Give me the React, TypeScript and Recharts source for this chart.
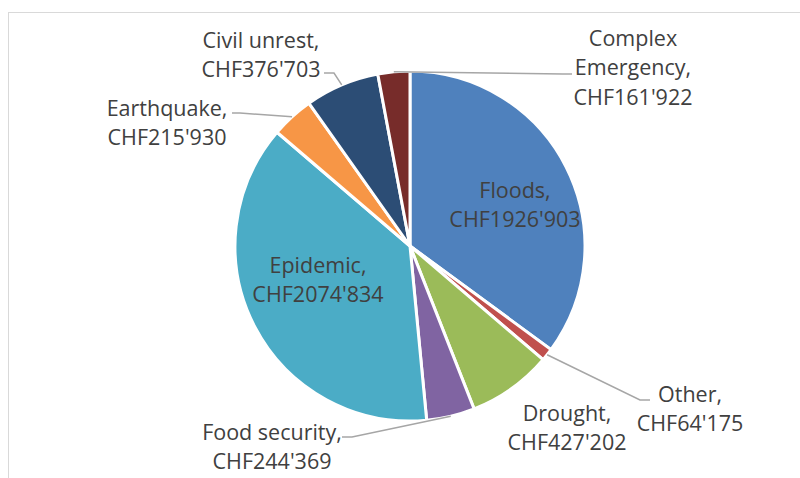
import { PieChart, Pie, Cell } from "recharts";

const categories = ["Floods", "Other", "Drought", "Food security", "Epidemic", "Earthquake", "Civil unrest", "Complex Emergency"];
const amounts = [1926903, 64175, 427202, 244369, 2074834, 215930, 376703, 161922];
const COLORS = ["#4F81BD", "#C0504D", "#9BBB59", "#8064A2", "#4BACC6", "#F79646", "#2C4D75", "#772C2A"];

// label placement relative to pie centre: text centre x + first line centre y, optional leader elbow
type LabelPos = { dx: number; dy: number; wrap?: boolean; leader?: [number, number][] };
const LABEL_POS: Record<string, LabelPos> = {
  Floods: { dx: 105, dy: -56 },
  Other: { dx: 280, dy: 148, leader: [[230, 154], [240, 154]] },
  Drought: { dx: 157, dy: 167 },
  "Food security": { dx: -138, dy: 186, leader: [[-58, 191], [-68, 191]] },
  Epidemic: { dx: -92, dy: 19 },
  Earthquake: { dx: -243, dy: -138, leader: [[-170, -133], [-178, -133]] },
  "Civil unrest": { dx: -149, dy: -206, leader: [[-76, -173], [-86, -173]] },
  "Complex Emergency": { dx: 223, dy: -208, wrap: true, leader: [[153, -172], [162, -172]] },
};

const FONT = 21.5;
const LINE_H = 29.5;

const data = categories.map((name, i) => ({ name, value: amounts[i] }));

const fmt = (v: number) => {
  const k = Math.floor(v / 1000);
  const r = String(v % 1000).padStart(3, "0");
  return `CHF${k}'${r}`;
};

const RAD = Math.PI / 180;

function renderLabel(props: any) {
  const { cx, cy, midAngle, outerRadius, name, value } = props;
  const pos = LABEL_POS[name];
  if (!pos) return null;
  const words = pos.wrap ? name.split(" ") : [name];
  const lines = [...words.slice(0, -1), words[words.length - 1] + ",", fmt(value)];
  const x = cx + pos.dx;
  // baseline sits ~0.36em below the visual centre of capitals
  const y0 = cy + pos.dy + FONT * 0.36;
  let leader = null;
  if (pos.leader) {
    const ex = cx + outerRadius * Math.cos(-midAngle * RAD);
    const ey = cy + outerRadius * Math.sin(-midAngle * RAD);
    const pts = [[ex, ey], ...pos.leader.map(([a, b]) => [cx + a, cy + b])];
    leader = (
      <polyline points={pts.map((p) => p.join(",")).join(" ")} fill="none" stroke="#A6A6A6" strokeWidth={1.5} />
    );
  }
  return (
    <g key={name}>
      {leader}
      <text x={x} y={y0} textAnchor="middle" fill="#404040" fontSize={FONT} fontFamily="'Open Sans', sans-serif">
        {lines.map((l, i) => (
          <tspan key={i} x={x} y={y0 + i * LINE_H}>{l}</tspan>
        ))}
      </text>
    </g>
  );
}

export default function App() {
  return (
    <div style={{ position: "absolute", left: 0, top: 0, width: 800, height: 478, background: "#fff", overflow: "hidden" }}>
      <div style={{ position: "absolute", left: 8, top: 12, width: 820, height: 500, borderTop: "1px solid #D9D9D9", borderLeft: "1px solid #D9D9D9" }} />
      <div style={{ position: "absolute", left: 0, top: 0 }}>
        <PieChart width={800} height={478} margin={{ top: 0, right: 0, bottom: 0, left: 0 }}>
          <Pie
            data={data}
            dataKey="value"
            nameKey="name"
            cx={410}
            cy={246}
            outerRadius={175}
            startAngle={90}
            endAngle={-270}
            stroke="#fff"
            strokeWidth={3}
            label={renderLabel}
            labelLine={false}
            isAnimationActive={false}
          >
            {data.map((d, i) => (
              <Cell key={d.name} fill={COLORS[i]} />
            ))}
          </Pie>
        </PieChart>
      </div>
    </div>
  );
}
